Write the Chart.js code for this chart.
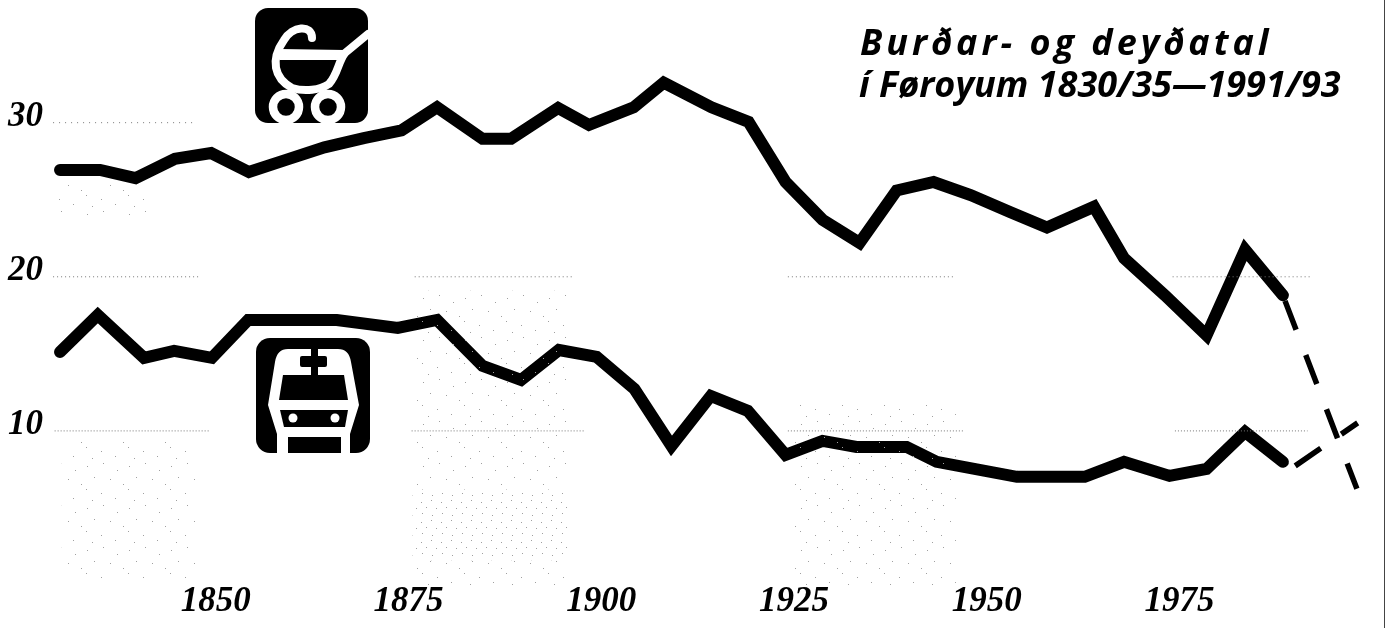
<!DOCTYPE html>
<html><head><meta charset="utf-8">
<style>html,body{margin:0;padding:0;background:#fff}canvas{display:block}</style>
<script src="https://cdn.jsdelivr.net/npm/chart.js@4"></script>
</head><body><canvas id="c" width="1389" height="628"></canvas>
<script>
const titleLines = ['Burðar- og deyðatal', 'í Føroyum 1830/35—1991/93'];
const xTicks = [1850, 1875, 1900, 1925, 1950, 1975];
const yTicks = [10, 20, 30];

const birthYears = [1829.8,1835.0,1839.6,1844.7,1849.4,1854.3,1859.2,1864.1,1869.2,1874.1,1878.7,1884.6,1888.3,1894.4,1898.4,1904.2,1908.1,1914.3,1919.1,1923.9,1928.7,1933.5,1938.3,1943.1,1947.9,1953.0,1957.8,1963.9,1967.8,1973.1,1978.5,1983.5,1988.4];
const birthRates = [26.93,26.93,26.4,27.65,28.03,26.8,27.6,28.4,29.0,29.5,31.0,28.95,28.95,30.95,29.85,31.0,32.6,31.0,30.05,26.15,23.7,22.2,25.6,26.15,25.3,24.2,23.2,24.55,21.2,18.8,16.2,21.75,18.8];
const deathYears = [1829.8,1834.7,1840.7,1844.6,1849.5,1854.2,1865.7,1873.6,1878.7,1884.6,1889.6,1894.5,1899.4,1904.3,1909.1,1914.2,1919.0,1923.9,1928.7,1933.1,1939.6,1943.5,1953.9,1962.7,1967.8,1973.7,1978.5,1983.5,1988.4];
const deathRates = [15.12,17.52,14.74,15.19,14.74,17.2,17.2,16.68,17.2,14.22,13.31,15.25,14.8,12.72,9.03,12.27,11.3,8.44,9.35,8.96,8.96,7.99,7.02,7.02,7.99,7.08,7.53,9.93,7.99];
const birthDashYears = [1988.4, 1998.0];
const birthDashRates = [18.8, 6.24];
const deathDashYears = [1990.0, 1998.1];
const deathDashRates = [7.73, 10.52];

const grid30 = [1828.9,1847.5];
const grid20 = [1828.9,1847.9,1875.8,1896.2,1924.2,1945.8,1974.1,1991.9];
const grid10 = [1829.1,1849.2,1875.4,1897.9,1924.2,1947.1,1974.4,1991.6];

const sparseBands = [[1830,1847.5,9.4,0.3],[1875.5,1896,19.1,6.2],[1924.5,1946,11.7,0],[1829,1841,26,24],[1875.5,1896,1.6,0]];
const denseBands = [[1875.5,1896,6.2,1.6]];

function stipple(size, dots){
  const p = document.createElement('canvas'); p.width = p.height = size;
  const g = p.getContext('2d'); g.fillStyle = '#a0a0a0';
  dots.forEach(d => g.fillRect(d[0], d[1], 1, 1));
  return g.createPattern(p, 'repeat');
}
const sparseDots = stipple(42, [[3,4],[19,1],[33,8],[10,15],[26,17],[39,22],[2,27],[17,31],[31,36],[8,38]]);
const denseDots = stipple(20, [[1,2],[11,0],[6,7],[16,8],[2,13],[12,15]]);

const pts = (xs, ys) => xs.map((x, i) => ({x, y: ys[i]}));
function gridData(xs, v){
  const out = [];
  for (let i = 0; i < xs.length; i += 2){
    out.push({x: xs[i], y: v}, {x: xs[i+1], y: v});
    if (i + 2 < xs.length) out.push({x: xs[i+1] + 0.1, y: NaN});
  }
  return out;
}
const gridDs = (xs, v, dash) => ({data: gridData(xs, v), borderColor: '#777', borderWidth: 1, borderDash: dash, pointRadius: 0, fill: false});
const bandDs = (b, pat) => ({data: [{x: b[0], y: b[2]}, {x: b[1], y: b[2]}], fill: {value: b[3]}, backgroundColor: pat, borderWidth: 0, borderColor: 'transparent', pointRadius: 0});
const thick = (xs, ys) => ({data: pts(xs, ys), borderColor: '#000', borderWidth: 12, borderJoinStyle: 'miter', borderCapStyle: 'round', pointRadius: 0, fill: false, tension: 0});

function rr(g, x, y, w, h, r){ g.beginPath(); g.roundRect(x, y, w, h, r); }

function drawPram(g){
  g.save();
  g.fillStyle = '#000'; rr(g, 255, 8, 113, 115, 13); g.fill();
  g.strokeStyle = '#fff'; g.lineCap = 'round'; g.lineJoin = 'round'; g.lineWidth = 8;
  g.beginPath(); g.moveTo(312, 38); g.bezierCurveTo(312, 24, 292, 26, 284, 40);
  g.bezierCurveTo(270, 60, 274, 78, 292, 88); g.bezierCurveTo(305, 92, 320, 90, 329, 84);
  g.bezierCurveTo(338, 74, 338, 62, 345, 53); g.lineTo(368, 34); g.stroke();
  g.fillStyle = '#fff'; g.beginPath(); g.moveTo(280, 49); g.lineTo(345, 50); g.lineTo(337, 60); g.lineTo(280, 60); g.closePath(); g.fill();
  g.lineWidth = 8.5; g.lineCap = 'butt';
  g.beginPath(); g.arc(286, 107, 13, 0, Math.PI * 2); g.stroke();
  g.beginPath(); g.arc(328, 107, 13, 0, Math.PI * 2); g.stroke();
  g.fillRect(270, 123, 75, 3);
  g.restore();
}
function drawTrain(g){
  g.save();
  g.fillStyle = '#000'; rr(g, 256, 338, 114, 115, 14); g.fill();
  g.fillStyle = '#fff';
  g.beginPath(); g.moveTo(288, 349); g.lineTo(338, 349); g.quadraticCurveTo(349, 349, 351, 362);
  g.lineTo(359, 405); g.lineTo(350, 434); g.lineTo(350, 453); g.lineTo(277, 453); g.lineTo(277, 434);
  g.lineTo(268, 405); g.lineTo(275, 362); g.quadraticCurveTo(277, 349, 288, 349); g.closePath(); g.fill();
  g.fillStyle = '#000';
  rr(g, 300, 356, 27, 11, 2); g.fill();
  g.fillRect(311, 349, 7, 30);
  g.beginPath(); g.moveTo(283, 375); g.lineTo(344, 375); g.lineTo(348, 400); g.lineTo(279, 400); g.closePath(); g.fill();
  g.beginPath(); g.moveTo(280, 410); g.lineTo(348, 410); g.lineTo(345, 427); g.lineTo(284, 427); g.closePath(); g.fill();
  g.fillRect(288, 437, 53, 16);
  g.fillStyle = '#fff';
  g.beginPath(); g.arc(293, 418, 4.5, 0, Math.PI * 2); g.fill();
  g.beginPath(); g.arc(335, 418, 4.5, 0, Math.PI * 2); g.fill();
  g.restore();
}
const decor = {
  id: 'decor',
  afterDraw(chart){
    const g = chart.ctx;
    drawPram(g); drawTrain(g);
    g.save();
    g.fillStyle = '#000'; g.textBaseline = 'alphabetic'; g.textAlign = 'left';
    g.font = 'italic bold 36px "Open Sans"';
    g.letterSpacing = '4px'; g.fillText(titleLines[0], 860, 55);
    g.letterSpacing = '0px'; g.fillText(titleLines[1], 859, 97);
    g.fillStyle = '#444'; g.fillRect(1384, 0, 1, 628);
    g.restore();
  }
};

new Chart(document.getElementById('c'), {
  type: 'line',
  data: { datasets: [
    ...sparseBands.map(b => bandDs(b, sparseDots)),
    ...denseBands.map(b => bandDs(b, denseDots)),
    gridDs(grid30, 30, [1, 5]),
    gridDs(grid20, 20, [1, 3]),
    gridDs(grid10, 10, [1, 2]),
    thick(birthYears, birthRates),
    thick(deathYears, deathRates),
    {data: pts(birthDashYears, birthDashRates), borderColor: '#000', borderWidth: 5.5, borderDash: [31, 27], borderDashOffset: 52, borderCapStyle: 'butt', pointRadius: 0, fill: false},
    {data: pts(deathDashYears, deathDashRates), borderColor: '#000', borderWidth: 5.5, borderDash: [31, 25], borderCapStyle: 'butt', pointRadius: 0, fill: false}
  ]},
  options: {
    responsive: false, animation: false, events: [],
    layout: {padding: {top: 14.8, right: 19, left: 0, bottom: 0}},
    plugins: {legend: {display: false}, tooltip: {enabled: false}, title: {display: false}},
    scales: {
      x: {
        type: 'linear', min: 1828.5, max: 1999.7,
        grid: {display: false, drawTicks: false}, border: {display: false},
        afterBuildTicks(s){ s.ticks = xTicks.map(v => ({value: v})); },
        afterFit(s){ s.height = 43; s.paddingLeft = 0; s.paddingRight = 0; },
        ticks: {autoSkip: false, maxRotation: 0, padding: -4, color: '#000',
          font: {family: '"Liberation Serif"', size: 35, style: 'italic', weight: 'bold'},
          callback: v => String(v)}
      },
      y: {
        type: 'linear', min: 0, max: 37,
        grid: {display: false, drawTicks: false}, border: {display: false},
        afterBuildTicks(s){ s.ticks = yTicks.map(v => ({value: v})); },
        afterFit(s){ s.width = 50; s.paddingTop = 0; s.paddingBottom = 0; },
        ticks: {padding: 7, color: '#000', labelOffset: -6,
          font: {family: '"Liberation Serif"', size: 35, style: 'italic', weight: 'bold'},
          callback: v => String(v)}
      }
    }
  },
  plugins: [decor]
});
</script></body></html>
